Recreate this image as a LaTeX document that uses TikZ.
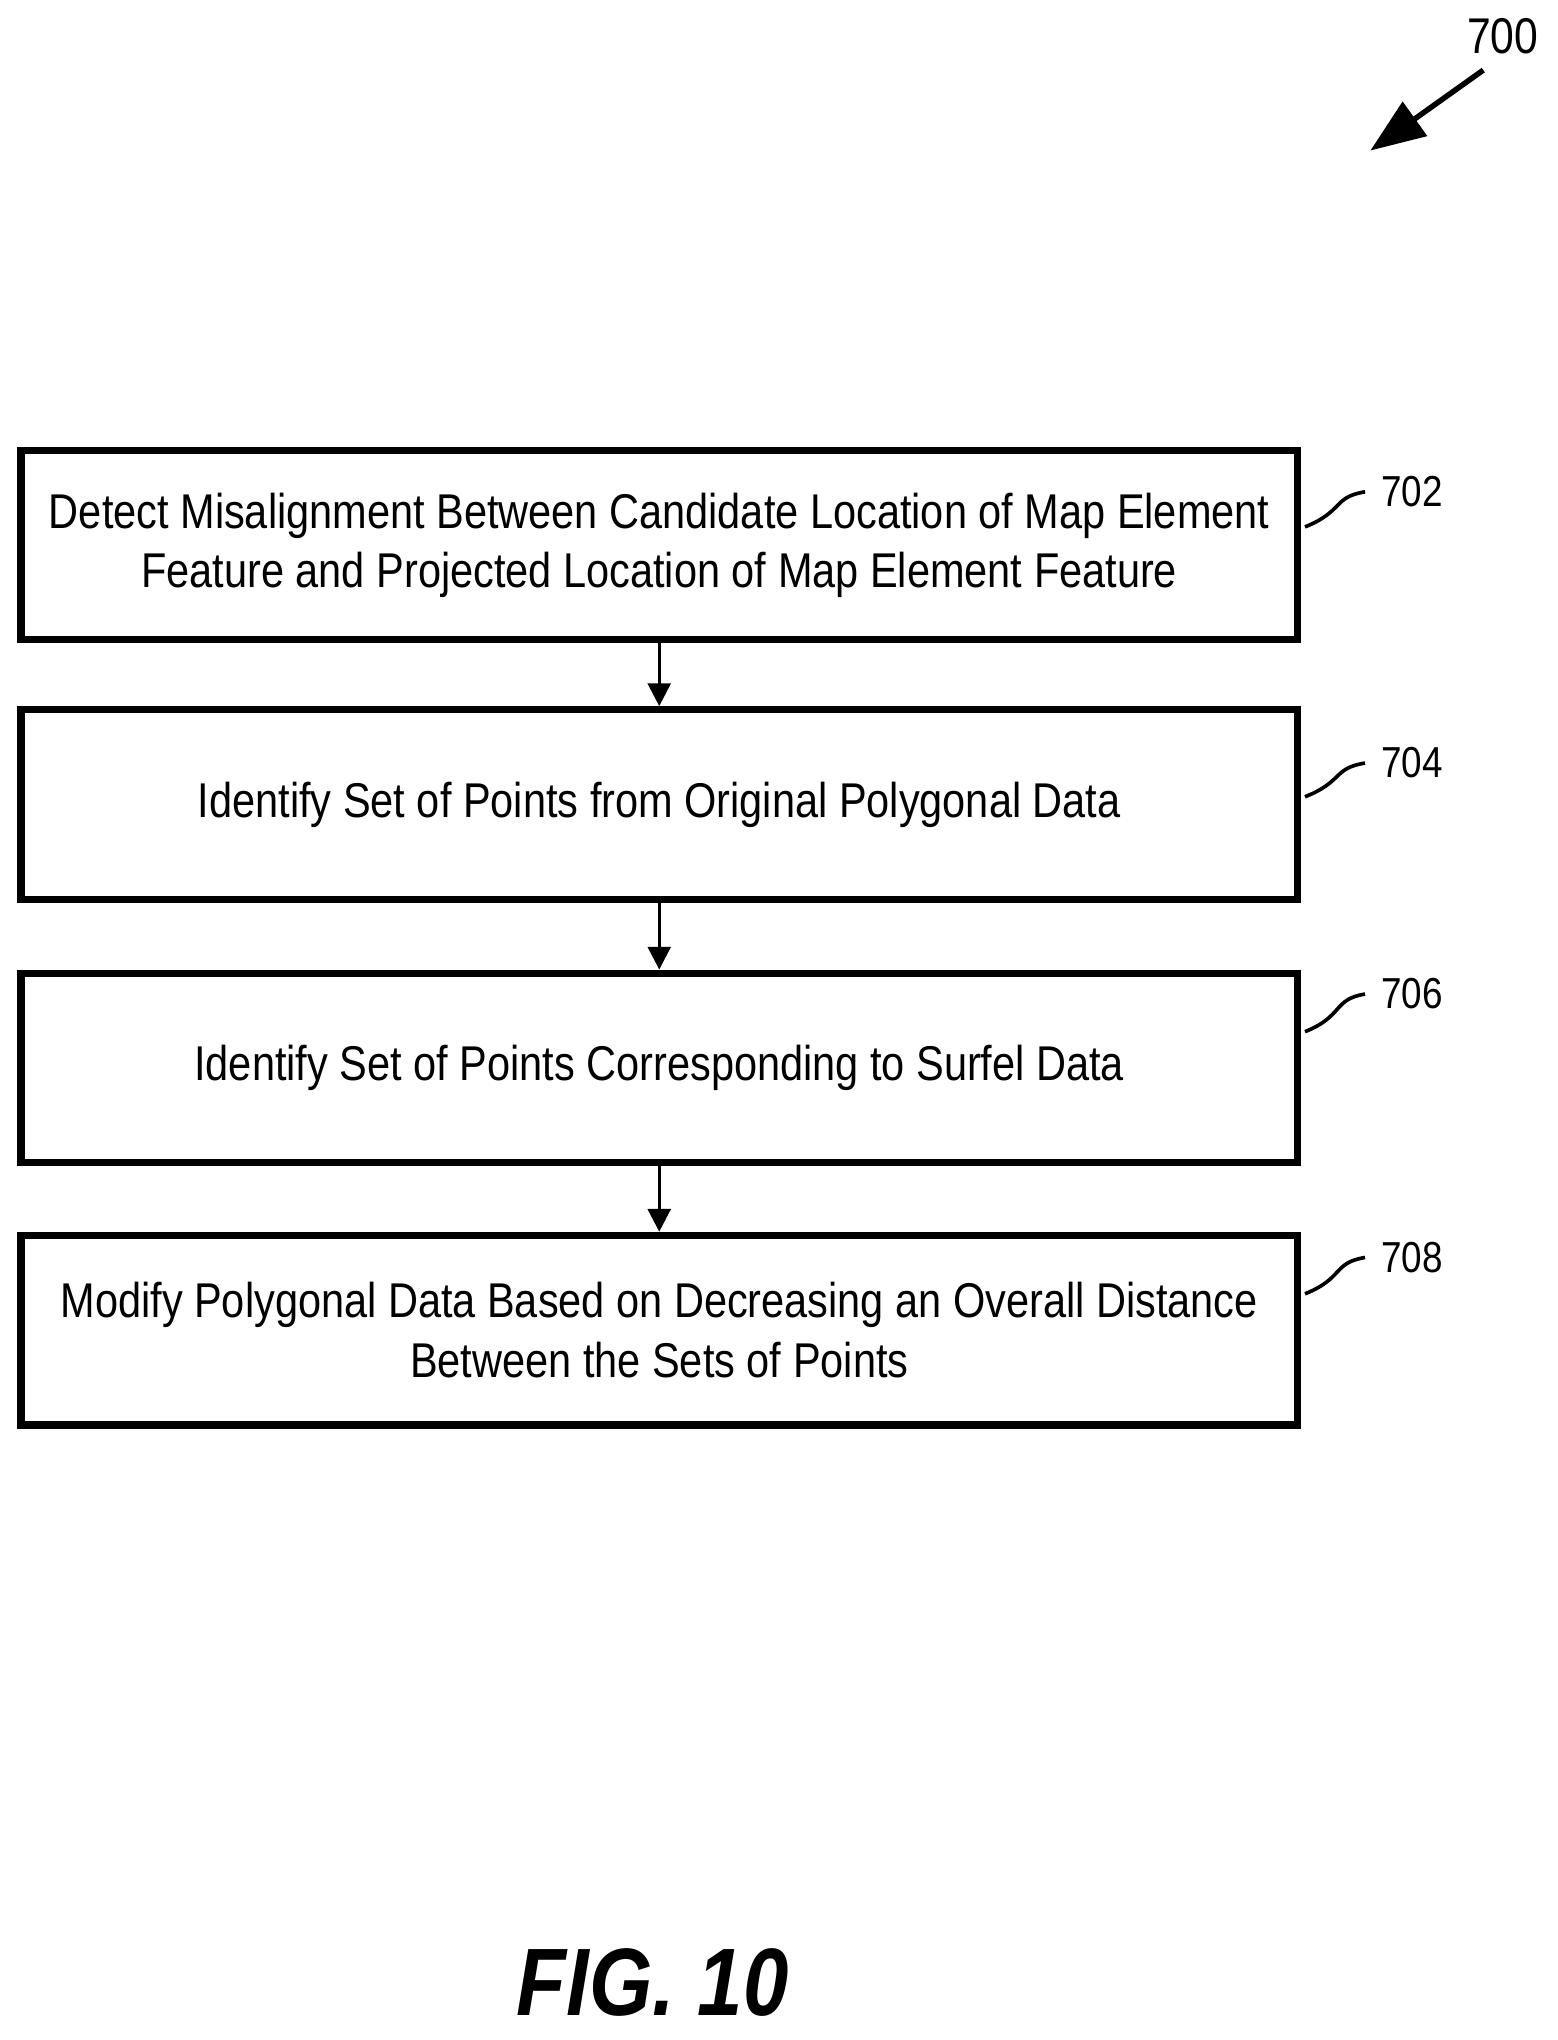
\documentclass[tikz,border=0pt]{standalone}
\usepackage{fontspec}
\setmainfont[FakeStretch=0.85]{Liberation Sans}
\usetikzlibrary{arrows.meta}
\tikzset{
  stepbox/.style={draw, line width=1.6pt, minimum width=9.83cm, minimum height=1.46cm, align=center, inner sep=0pt, font=\fontsize{10.7}{13}\selectfont},
  flow/.style={-{Triangle[length=5pt,width=5pt]}, line width=0.7pt},
  tag/.style={font=\fontsize{9.5}{11}\selectfont},
  lead/.style={line width=0.8pt}
}
\begin{document}
\begin{tikzpicture}[x=0.01cm,y=-0.01cm]
  \useasboundingbox (0,0) rectangle (1200,1572);

  % boxes
  \node[stepbox] (detect) at (508,420) {Detect Misalignment Between Candidate Location of Map Element\\Feature and Projected Location of Map Element Feature};
  \node[stepbox] (orig) at (508,620) {Identify Set of Points from Original Polygonal Data};
  \node[stepbox] (surfel) at (508,823) {Identify Set of Points Corresponding to Surfel Data};
  \node[stepbox] (modify) at (508,1025) {Modify Polygonal Data Based on Decreasing an Overall Distance\\Between the Sets of Points};

  % arrows
  \draw[flow] (detect) -- (orig);
  \draw[flow] (orig) -- (surfel);
  \draw[flow] (surfel) -- (modify);

  % reference numerals
  \node[tag] (n702) at (1088,379) {702};
  \node[tag] (n704) at (1088,588) {704};
  \node[tag] (n706) at (1088,766) {706};
  \node[tag] (n708) at (1088,969) {708};
  \draw[lead] (detect.east) ++(3,-14) .. controls +(30,-12) and +(-25,4) .. (n702.west);
  \draw[lead] (orig.east) ++(3,-6) .. controls +(30,-12) and +(-25,4) .. (n704.west);
  \draw[lead] (surfel.east) ++(3,-28) .. controls +(30,-12) and +(-25,4) .. (n706.west);
  \draw[lead] (modify.east) ++(3,-28) .. controls +(30,-12) and +(-25,4) .. (n708.west);

  \node[tag, font=\fontsize{11}{13}\selectfont] (n700) at (1158,28) {700};
  \coordinate (n700tip) at (1056,116);
  \draw[flow, line width=1.2pt, -{Triangle[length=12pt,width=9pt]}] (1143,54) -- (n700tip);

  \node[font=\fontsize{21}{24}\selectfont\bfseries\itshape] (fig) at (503,1528) {FIG. 10};
\end{tikzpicture}
\end{document}
